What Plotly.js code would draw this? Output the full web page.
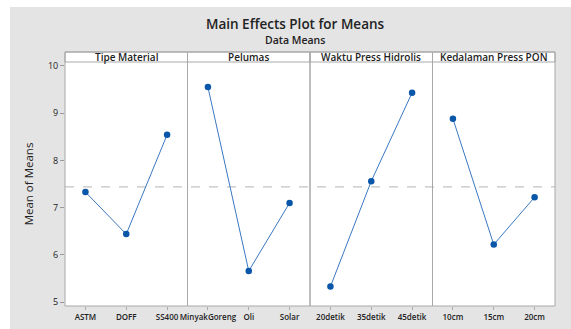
<!DOCTYPE html>
<html>
<head>
<meta charset="utf-8">
<script src="https://cdn.plot.ly/plotly-3.0.1.min.js"></script>
<style>
html,body{margin:0;padding:0;background:#fff;}
#chart{position:absolute;left:10px;top:7px;width:561px;height:322px;}
</style>
</head>
<body>
<div id="chart"></div>
<script>
const factors = ["Tipe Material", "Pelumas", "Waktu Press Hidrolis", "Kedalaman Press PON"];
const levelsMaterial = ["ASTM", "DOFF", "SS400"];
const levelsPelumas = ["MinyakGoreng", "Oli", "Solar"];
const levelsWaktu = ["20detik", "35detik", "45detik"];
const levelsKedalaman = ["10cm", "15cm", "20cm"];
const meansMaterial = [7.33, 6.44, 8.54];
const meansPelumas = [9.55, 5.66, 7.10];
const meansWaktu = [5.33, 7.56, 9.43];
const meansKedalaman = [8.88, 6.22, 7.22];
const grandMean = 7.44;
const yTicks = [5, 6, 7, 8, 9, 10];

const levels = [levelsMaterial, levelsPelumas, levelsWaktu, levelsKedalaman];
const means = [meansMaterial, meansPelumas, meansWaktu, meansKedalaman];

const FONT = "'Open Sans', 'Noto Sans', sans-serif";
const traces = levels.map((lv, i) => ({
  type: 'scatter', mode: 'lines+markers',
  x: lv, y: means[i],
  xaxis: i === 0 ? 'x' : 'x' + (i + 1), yaxis: 'y',
  line: {color: '#3a78c0', width: 1},
  marker: {color: '#0a56a8', size: 6.5, symbol: 'circle'},
  showlegend: false, hoverinfo: 'x+y'
}));

const hdr = 10 / 244;
const layout = {
  width: 561, height: 322,
  margin: {l: 55, r: 16, t: 55, b: 23},
  paper_bgcolor: '#e4e4e4', plot_bgcolor: '#ffffff',
  font: {family: FONT, color: '#222'},
  yaxis: {
    range: [4.92, 10.08], tickvals: yTicks, ticktext: yTicks.map(String),
    ticks: 'outside', ticklen: 4, tickcolor: '#999', tickfont: {size: 9, color: '#222'},
    showgrid: false, zeroline: false, showline: false, anchor: 'x',
    title: {text: 'Mean of Means', font: {size: 11.5, color: '#222'}, standoff: 11}
  },
  shapes: [], annotations: []
};
for (let i = 0; i < 4; i++) {
  const key = i === 0 ? 'xaxis' : 'xaxis' + (i + 1);
  layout[key] = {
    domain: [i * 0.25, (i + 1) * 0.25], anchor: 'y', type: 'category',
    range: [-0.5, 2.5], categoryorder: 'array', categoryarray: levels[i],
    ticks: 'outside', ticklen: 3, tickcolor: '#aaa',
    tickfont: {size: 8, color: '#222', weight: 600},
    showgrid: false, zeroline: false, showline: false, fixedrange: true
  };
  layout.shapes.push({type: 'rect', xref: 'paper', yref: 'paper', x0: i * 0.25, x1: (i + 1) * 0.25, y0: 0, y1: 1 + hdr, line: {color: '#a8a8a8', width: 1}, layer: 'above'});
  layout.shapes.push({type: 'rect', xref: 'paper', yref: 'paper', x0: i * 0.25, x1: (i + 1) * 0.25, y0: 1, y1: 1 + hdr, fillcolor: '#ffffff', line: {color: '#a8a8a8', width: 1}, layer: 'below'});
  layout.annotations.push({xref: 'paper', yref: 'paper', x: i * 0.25 + 0.125, y: 1 + hdr / 2, text: factors[i], showarrow: false, xanchor: 'center', yanchor: 'middle', font: {size: 10, color: '#222', weight: 600}});
}
layout.shapes.push({type: 'line', xref: 'paper', yref: 'y', x0: 0, x1: 1, y0: grandMean, y1: grandMean, line: {color: '#c4c4c4', width: 1.2, dash: 'dash'}, layer: 'below'});
layout.annotations.push({xref: 'paper', yref: 'paper', x: (285 - 55) / 490, y: 1 + (55 - 17) / 244, text: 'Main Effects Plot for Means', showarrow: false, xanchor: 'center', yanchor: 'middle', font: {size: 13.5, color: '#222', weight: 600}});
layout.annotations.push({xref: 'paper', yref: 'paper', x: (285 - 55) / 490, y: 1 + (55 - 33) / 244, text: 'Data Means', showarrow: false, xanchor: 'center', yanchor: 'middle', font: {size: 10.5, color: '#222', weight: 600}});

Plotly.newPlot('chart', traces, layout, {displayModeBar: false, staticPlot: true});
</script>
</body>
</html>
